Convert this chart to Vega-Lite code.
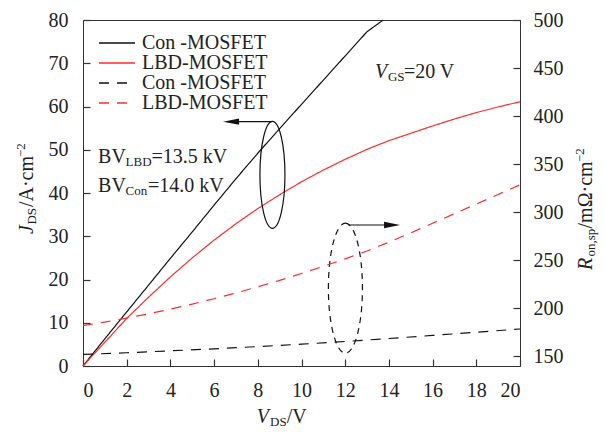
{
  "$schema": "https://vega.github.io/schema/vega-lite/v6.json",
  "width": 437,
  "height": 346,
  "autosize": {"type": "none"},
  "padding": {"left": 83, "top": 20, "right": 86, "bottom": 66},
  "background": "white",
  "config": {
    "font": "Liberation Serif",
    "view": {"stroke": "#333", "strokeWidth": 1},
    "axis": {
      "labelFont": "Liberation Serif",
      "labelFontSize": 20,
      "labelColor": "#222",
      "domain": false,
      "ticks": true,
      "tickColor": "#333",
      "tickWidth": 1.2,
      "tickOpacity": 1,
      "grid": false,
      "title": null,
      "tickSize": 7,
      "offset": -7,
      "zindex": 1
    },
    "text": {"font": "Liberation Serif", "color": "#222", "fontSize": 20, "align": "left", "baseline": "alphabetic"}
  },
  "datasets": {
    "jds": [
      {"V": 0, "J": 0, "series": "a"},
      {"V": 1, "J": 6.3, "series": "a"},
      {"V": 2, "J": 12.5, "series": "a"},
      {"V": 3, "J": 18.7, "series": "a"},
      {"V": 4, "J": 24.9, "series": "a"},
      {"V": 5, "J": 31.0, "series": "a"},
      {"V": 6, "J": 37.2, "series": "a"},
      {"V": 7, "J": 43.3, "series": "a"},
      {"V": 8, "J": 49.2, "series": "a"},
      {"V": 9, "J": 54.9, "series": "a"},
      {"V": 10, "J": 60.5, "series": "a"},
      {"V": 11, "J": 66.1, "series": "a"},
      {"V": 12, "J": 71.7, "series": "a"},
      {"V": 13, "J": 77.3, "series": "a"},
      {"V": 13.74, "J": 80, "series": "a"},
      {"V": 0, "J": 0, "series": "b"},
      {"V": 1, "J": 5.5, "series": "b"},
      {"V": 2, "J": 11.0, "series": "b"},
      {"V": 3, "J": 15.9, "series": "b"},
      {"V": 4, "J": 20.6, "series": "b"},
      {"V": 5, "J": 25.0, "series": "b"},
      {"V": 6, "J": 29.1, "series": "b"},
      {"V": 7, "J": 32.9, "series": "b"},
      {"V": 8, "J": 36.4, "series": "b"},
      {"V": 9, "J": 39.6, "series": "b"},
      {"V": 10, "J": 42.6, "series": "b"},
      {"V": 11, "J": 45.3, "series": "b"},
      {"V": 12, "J": 47.8, "series": "b"},
      {"V": 13, "J": 50.1, "series": "b"},
      {"V": 14, "J": 52.1, "series": "b"},
      {"V": 15, "J": 53.8, "series": "b"},
      {"V": 16, "J": 55.5, "series": "b"},
      {"V": 17, "J": 57.1, "series": "b"},
      {"V": 18, "J": 58.6, "series": "b"},
      {"V": 19, "J": 59.9, "series": "b"},
      {"V": 20, "J": 61.1, "series": "b"}
    ],
    "ron": [
      {"V": 0, "R": 152, "series": "c"},
      {"V": 2, "R": 153.8, "series": "c"},
      {"V": 4, "R": 155.8, "series": "c"},
      {"V": 6, "R": 157.9, "series": "c"},
      {"V": 8, "R": 160.2, "series": "c"},
      {"V": 10, "R": 162.7, "series": "c"},
      {"V": 12, "R": 165.5, "series": "c"},
      {"V": 14, "R": 168.6, "series": "c"},
      {"V": 16, "R": 171.8, "series": "c"},
      {"V": 18, "R": 175.1, "series": "c"},
      {"V": 20, "R": 178.5, "series": "c"},
      {"V": 0, "R": 182, "series": "d"},
      {"V": 1, "R": 185.7, "series": "d"},
      {"V": 2, "R": 189.9, "series": "d"},
      {"V": 3, "R": 194.3, "series": "d"},
      {"V": 4, "R": 199.2, "series": "d"},
      {"V": 5, "R": 204.4, "series": "d"},
      {"V": 6, "R": 210, "series": "d"},
      {"V": 7, "R": 216, "series": "d"},
      {"V": 8, "R": 222.4, "series": "d"},
      {"V": 9, "R": 229.1, "series": "d"},
      {"V": 10, "R": 236.2, "series": "d"},
      {"V": 11, "R": 243.7, "series": "d"},
      {"V": 12, "R": 251.5, "series": "d"},
      {"V": 13, "R": 259.7, "series": "d"},
      {"V": 14, "R": 268.8, "series": "d"},
      {"V": 15, "R": 278.5, "series": "d"},
      {"V": 16, "R": 288.5, "series": "d"},
      {"V": 17, "R": 298.5, "series": "d"},
      {"V": 18, "R": 308.5, "series": "d"},
      {"V": 19, "R": 318.5, "series": "d"},
      {"V": 20, "R": 328.5, "series": "d"}
    ],
    "one": [{}]
  },
  "layer": [
    {
      "layer": [
        {
          "data": {"name": "jds"},
          "mark": {"type": "line", "strokeWidth": 1.2},
          "encoding": {
            "x": {"field": "V", "type": "quantitative", "scale": {"domain": [0, 20], "nice": false, "zero": false},
                  "axis": {"values": [0, 2, 4, 6, 8, 10, 12, 14, 16, 18, 20], "labelPadding": 14}},
            "y": {"field": "J", "type": "quantitative", "scale": {"domain": [0, 80], "nice": false, "zero": false},
                  "axis": {"orient": "left", "values": [0, 10, 20, 30, 40, 50, 60, 70, 80], "labelPadding": 15}},
            "color": {"field": "series", "type": "nominal",
              "scale": {"domain": ["a", "b", "c", "d"], "range": ["#111111", "#ff2b2b", "#111111", "#ff2b2b"]},
              "legend": {"orient": "none", "legendX": 16, "legendY": 13, "title": null, "padding": 0, "rowPadding": 0,
                "labelFont": "Liberation Serif", "labelFontSize": 20, "labelColor": "#222", "labelOffset": 23, "labelLimit": 300,
                "symbolType": "M-2.2222,0 L5.7778,0", "symbolSize": 81, "symbolStrokeWidth": 1.3,
                "labelExpr": "datum.label == 'a' || datum.label == 'c' ? 'Con -MOSFET' : 'LBD-MOSFET'"}},
            "strokeDash": {"field": "series", "type": "nominal",
              "scale": {"domain": ["a", "b", "c", "d"], "range": [[1, 0], [1, 0], [10, 8], [10, 8]]},
              "legend": {"orient": "none", "legendX": 16, "legendY": 13, "title": null, "padding": 0, "rowPadding": 0,
                "labelFont": "Liberation Serif", "labelFontSize": 20, "labelColor": "#222", "labelOffset": 23, "labelLimit": 300,
                "symbolType": "M-2.2222,0 L5.7778,0", "symbolSize": 81, "symbolStrokeWidth": 1.3,
                "labelExpr": "datum.label == 'a' || datum.label == 'c' ? 'Con -MOSFET' : 'LBD-MOSFET'"}}
          }
        },
        {
          "data": {"name": "one"},
          "layer": [
            {
              "mark": {"type": "point", "shape": "M0,-1 A0.234,1 0 1,1 0,1 A0.234,1 0 1,1 0,-1 Z", "filled": false, "opacity": 1, "stroke": "#111", "strokeWidth": 1.2, "size": 11449},
              "encoding": {"x": {"datum": 8.67}, "y": {"datum": 44.2}}
            },
            {
              "mark": {"type": "point", "shape": "M0,-1 A0.262,1 0 1,1 0,1 A0.262,1 0 1,1 0,-1 Z", "filled": false, "opacity": 1, "stroke": "#111", "strokeWidth": 1.2, "strokeDash": [6, 5], "size": 16900},
              "encoding": {"x": {"datum": 12.01}, "y": {"datum": 18.0}}
            },
            {
              "mark": {"type": "rule", "color": "#111", "strokeWidth": 1.2},
              "encoding": {"x": {"datum": 8.64}, "x2": {"datum": 7.0}, "y": {"datum": 56.5}}
            },
            {
              "mark": {"type": "point", "shape": "M0,0 L2,-0.4 L2,0.4 Z", "filled": true, "opacity": 1, "color": "#111", "size": 256},
              "encoding": {"x": {"datum": 6.41}, "y": {"datum": 56.5}}
            },
            {
              "mark": {"type": "rule", "color": "#111", "strokeWidth": 1.2},
              "encoding": {"x": {"datum": 12.14}, "x2": {"datum": 13.9}, "y": {"datum": 32.6}}
            },
            {
              "mark": {"type": "point", "shape": "M0,0 L-2,-0.4 L-2,0.4 Z", "filled": true, "opacity": 1, "color": "#111", "size": 256},
              "encoding": {"x": {"datum": 14.51}, "y": {"datum": 32.6}}
            },
            {"mark": {"type": "text", "text": "V", "fontStyle": "italic"}, "encoding": {"x": {"datum": 13.36}, "y": {"datum": 66.5}}},
            {"mark": {"type": "text", "text": "GS", "fontSize": 13, "dx": 13, "dy": 3}, "encoding": {"x": {"datum": 13.36}, "y": {"datum": 66.5}}},
            {"mark": {"type": "text", "text": "=20 V", "dx": 29}, "encoding": {"x": {"datum": 13.36}, "y": {"datum": 66.5}}},
            {"mark": {"type": "text", "text": "BV"}, "encoding": {"x": {"datum": 0.69}, "y": {"datum": 46.9}}},
            {"mark": {"type": "text", "text": "LBD", "fontSize": 13, "dx": 27.5, "dy": 3}, "encoding": {"x": {"datum": 0.69}, "y": {"datum": 46.9}}},
            {"mark": {"type": "text", "text": "=13.5 kV", "dx": 53.5}, "encoding": {"x": {"datum": 0.69}, "y": {"datum": 46.9}}},
            {"mark": {"type": "text", "text": "BV"}, "encoding": {"x": {"datum": 0.69}, "y": {"datum": 40.3}}},
            {"mark": {"type": "text", "text": "Con", "fontSize": 13, "dx": 27.5, "dy": 3}, "encoding": {"x": {"datum": 0.69}, "y": {"datum": 40.3}}},
            {"mark": {"type": "text", "text": "=14.0 kV", "dx": 50}, "encoding": {"x": {"datum": 0.69}, "y": {"datum": 40.3}}},
            {"mark": {"type": "text", "text": "V", "fontStyle": "italic"}, "encoding": {"x": {"datum": 7.95}, "y": {"datum": -13.1}}},
            {"mark": {"type": "text", "text": "DS", "fontSize": 13, "dx": 13.3, "dy": 3}, "encoding": {"x": {"datum": 7.95}, "y": {"datum": -13.1}}},
            {"mark": {"type": "text", "text": "/V", "dx": 30}, "encoding": {"x": {"datum": 7.95}, "y": {"datum": -13.1}}},
            {"mark": {"type": "text", "text": "J", "fontStyle": "italic", "angle": 270}, "encoding": {"x": {"datum": -2.31}, "y": {"datum": 30.5}}},
            {"mark": {"type": "text", "text": "DS", "fontSize": 13, "angle": 270, "dx": 9.5, "dy": 3}, "encoding": {"x": {"datum": -2.31}, "y": {"datum": 30.5}}},
            {"mark": {"type": "text", "text": "/A·cm", "angle": 270, "dx": 27}, "encoding": {"x": {"datum": -2.31}, "y": {"datum": 30.5}}},
            {"mark": {"type": "text", "text": "−2", "fontSize": 13, "angle": 270, "dx": 77, "dy": -8}, "encoding": {"x": {"datum": -2.31}, "y": {"datum": 30.5}}},
            {"mark": {"type": "text", "text": "R", "fontStyle": "italic", "angle": 270}, "encoding": {"x": {"datum": 23.3}, "y": {"datum": 22.2}}},
            {"mark": {"type": "text", "text": "on,sp", "fontSize": 13, "angle": 270, "dx": 13.5, "dy": 3}, "encoding": {"x": {"datum": 23.3}, "y": {"datum": 22.2}}},
            {"mark": {"type": "text", "text": "/mΩ·cm", "angle": 270, "dx": 41.5}, "encoding": {"x": {"datum": 23.3}, "y": {"datum": 22.2}}},
            {"mark": {"type": "text", "text": "−2", "fontSize": 13, "angle": 270, "dx": 108, "dy": -8}, "encoding": {"x": {"datum": 23.3}, "y": {"datum": 22.2}}}
          ]
        }
      ]
    },
    {
      "layer": [
        {
          "data": {"name": "ron"},
          "mark": {"type": "line", "strokeWidth": 1.2},
          "encoding": {
            "x": {"field": "V", "type": "quantitative"},
            "y": {"field": "R", "type": "quantitative", "scale": {"domain": [140, 500], "nice": false, "zero": false},
                  "axis": {"orient": "right", "values": [150, 200, 250, 300, 350, 400, 450, 500], "labelPadding": 13}},
            "color": {"field": "series", "type": "nominal"},
            "strokeDash": {"field": "series", "type": "nominal"}
          }
        }
      ]
    }
  ],
  "resolve": {"scale": {"y": "independent"}}
}
